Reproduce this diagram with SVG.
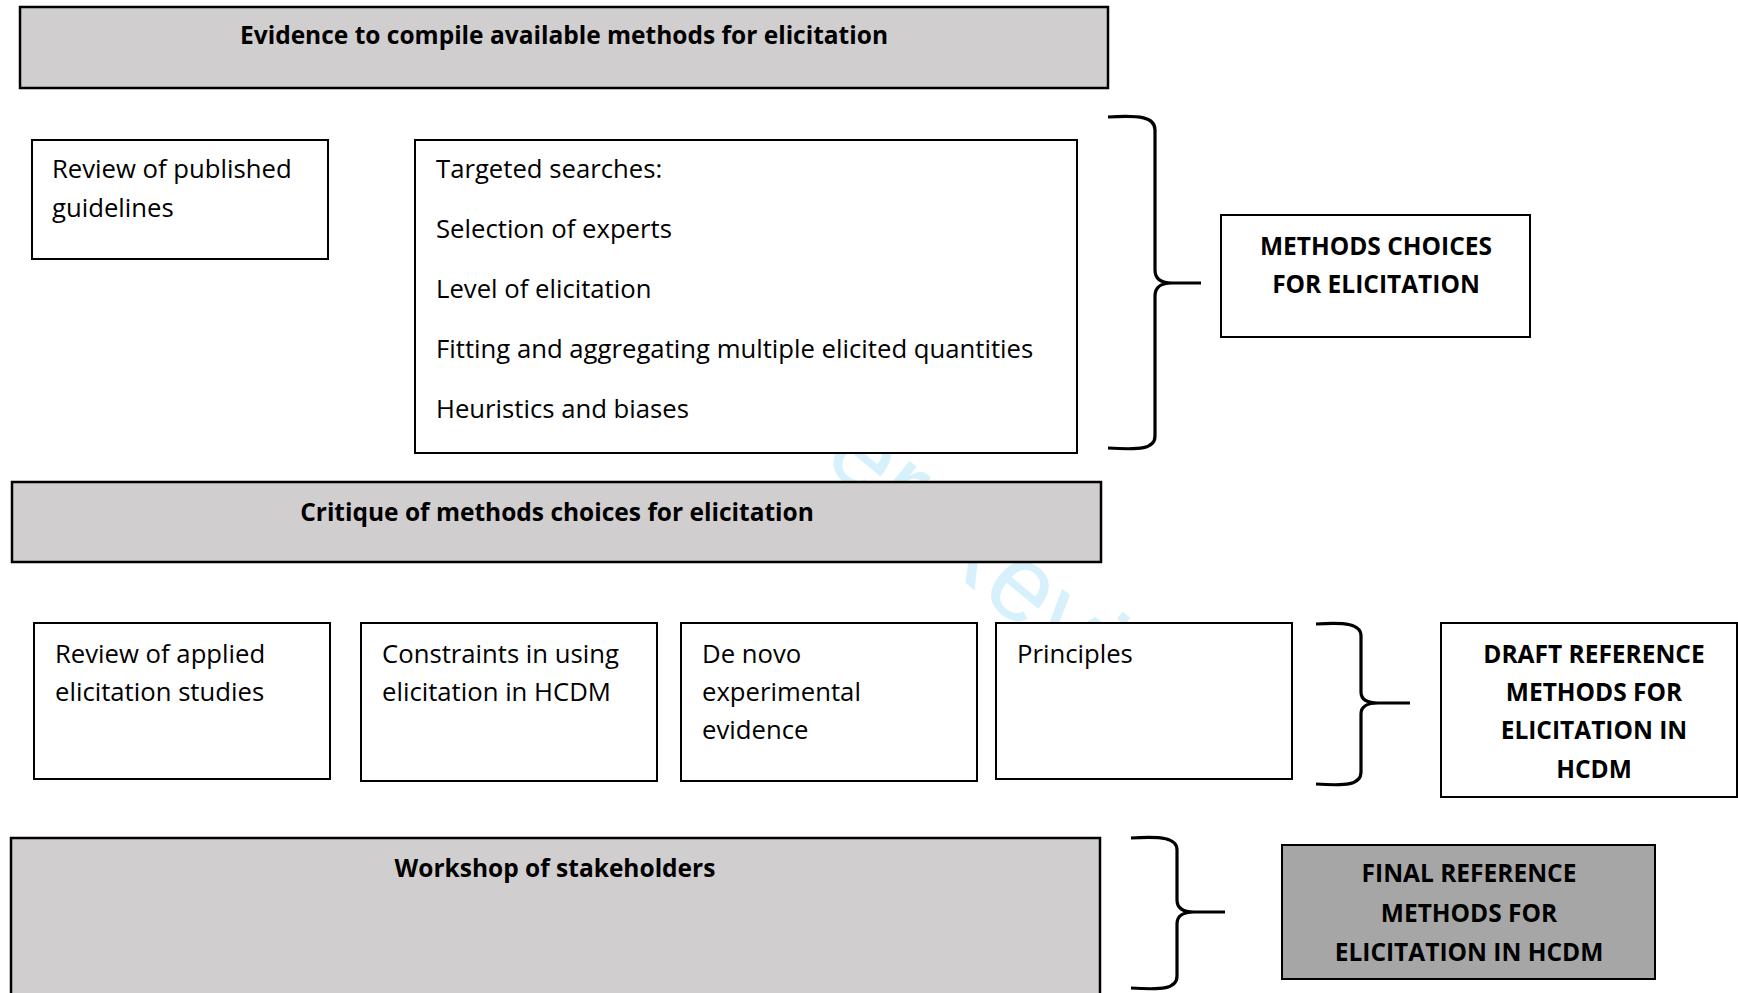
<svg xmlns="http://www.w3.org/2000/svg" width="1738" height="993" viewBox="0 0 1738 993">
  <style>
    .box { fill: #ffffff; stroke: #000000; stroke-width: 2; }
    .band { fill: #d0cece; stroke: #000000; stroke-width: 2.5; }
    .final { fill: #a6a6a6; stroke: #000000; stroke-width: 2; }
    .brace { fill: none; stroke: #000000; stroke-width: 3.2; stroke-linecap: butt; stroke-linejoin: round; }
    .t { font-family: "Open Sans", "Liberation Sans", sans-serif; font-size: 25.7px; fill: #000000; }
    .h { font-family: "Open Sans", "Liberation Sans", sans-serif; font-size: 24.5px; font-weight: bold; fill: #000000; text-anchor: middle; }
    .wm { font-family: "Liberation Sans", Arial, sans-serif; font-size: 109px; fill: #d6f0fc; }
  </style>

  <rect width="1738" height="993" fill="#ffffff"/>

  <!-- background stamp, mostly hidden by the boxes above it -->
  <text class="wm" x="570" y="251" transform="rotate(40 570 251)">For Peer Review</text>

  <g id="evidence">
    <rect class="band" x="20" y="7" width="1088" height="81"/>
    <text class="h" x="564" y="44">Evidence to compile available methods for elicitation</text>
  </g>

  <g id="published-guidelines">
    <rect class="box" x="32" y="140" width="296" height="119"/>
    <text class="t" x="52" y="178">Review of published</text>
    <text class="t" x="52" y="217">guidelines</text>
  </g>

  <g id="targeted-searches">
    <rect class="box" x="415" y="140" width="662" height="313"/>
    <text class="t" x="436" y="178">Targeted searches:</text>
    <text class="t" x="436" y="238">Selection of experts</text>
    <text class="t" x="436" y="298">Level of elicitation</text>
    <text class="t" x="436" y="358">Fitting and aggregating multiple elicited quantities</text>
    <text class="t" x="436" y="418">Heuristics and biases</text>
  </g>

  <g id="methods-choices">
    <rect class="box" x="1221" y="215" width="309" height="122"/>
    <text class="h" x="1376" y="255">METHODS CHOICES</text>
    <text class="h" x="1376" y="293">FOR ELICITATION</text>
  </g>

  <g id="critique">
    <rect class="band" x="12" y="482" width="1089" height="80"/>
    <text class="h" x="557" y="521">Critique of methods choices for elicitation</text>
  </g>

  <g id="applied-studies">
    <rect class="box" x="34" y="623" width="296" height="156"/>
    <text class="t" x="55" y="663">Review of applied</text>
    <text class="t" x="55" y="701">elicitation studies</text>
  </g>

  <g id="constraints">
    <rect class="box" x="361" y="623" width="296" height="158"/>
    <text class="t" x="382" y="663">Constraints in using</text>
    <text class="t" x="382" y="701">elicitation in HCDM</text>
  </g>

  <g id="de-novo">
    <rect class="box" x="681" y="623" width="296" height="158"/>
    <text class="t" x="702" y="663">De novo</text>
    <text class="t" x="702" y="701">experimental</text>
    <text class="t" x="702" y="739">evidence</text>
  </g>

  <g id="principles">
    <rect class="box" x="996" y="623" width="296" height="156"/>
    <text class="t" x="1017" y="663">Principles</text>
  </g>

  <g id="draft-reference">
    <rect class="box" x="1441" y="623" width="296" height="174"/>
    <text class="h" x="1594" y="663">DRAFT REFERENCE</text>
    <text class="h" x="1594" y="701">METHODS FOR</text>
    <text class="h" x="1594" y="739">ELICITATION IN</text>
    <text class="h" x="1594" y="778">HCDM</text>
  </g>

  <g id="workshop">
    <rect class="band" x="11" y="838" width="1089" height="170"/>
    <text class="h" x="555" y="877">Workshop of stakeholders</text>
  </g>

  <g id="final-reference">
    <rect class="final" x="1282" y="845" width="373" height="134"/>
    <text class="h" x="1469" y="882">FINAL REFERENCE</text>
    <text class="h" x="1469" y="922">METHODS FOR</text>
    <text class="h" x="1469" y="961">ELICITATION IN HCDM</text>
  </g>

  <!-- curly braces gathering each stage into its outcome -->
  <g id="connectors">
    <path class="brace" d="M1108,117 C1140,115 1155,117 1155,130 L1155,270 C1155,280 1162,283 1172,283 L1201,283 M1172,283 C1162,283 1155,286 1155,296 L1155,436 C1155,449 1140,450 1108,448"/>
    <path class="brace" d="M1316,624 C1346,622 1361,624 1361,636 L1361,692 C1361,700 1368,703 1378,703 L1410,703 M1378,703 C1368,703 1361,706 1361,714 L1361,772 C1361,785 1346,786 1316,784"/>
    <path class="brace" d="M1131,838 C1162,836 1177,838 1177,850 L1177,900 C1177,909 1184,912 1194,912 L1225,912 M1194,912 C1184,912 1177,915 1177,924 L1177,976 C1177,989 1162,990 1131,988"/>
  </g>
</svg>
